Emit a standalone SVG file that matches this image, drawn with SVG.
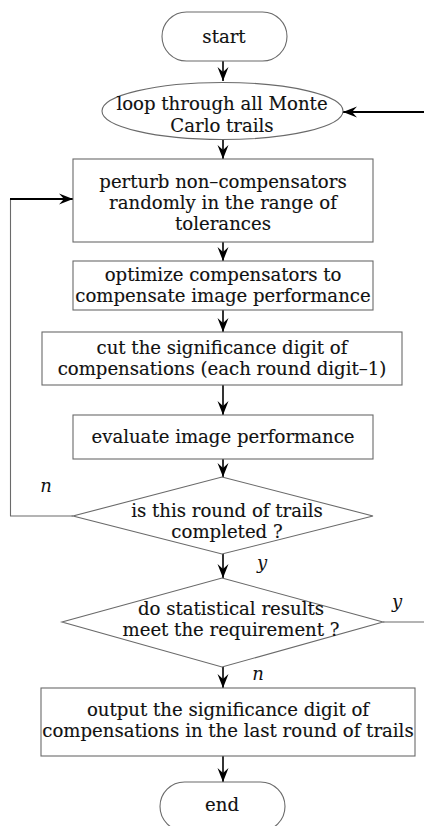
<svg xmlns="http://www.w3.org/2000/svg" width="424" height="826" viewBox="0 0 424 826">
<style>
.shape{fill:#fff;stroke:#6a6a6a;stroke-width:1.1}
.t{font-family:"DejaVu Serif","Liberation Serif",serif;font-size:18.1px;fill:#111;stroke:#111;stroke-width:0.15;text-anchor:middle}
.lbl{font-family:"DejaVu Serif","Liberation Serif",serif;font-size:18px;font-style:italic;fill:#111;text-anchor:middle}
.arr{fill:none;stroke:#000;stroke-width:1.6;marker-end:url(#ah)}
.arrb{fill:none;stroke:#000;stroke-width:2.2;marker-end:url(#ah)}
.ln{fill:none;stroke:#6a6a6a;stroke-width:1.1}
</style>
<defs>
<marker id="ah" markerUnits="userSpaceOnUse" markerWidth="16" markerHeight="12" viewBox="-14 -6 16 12" refX="0" refY="0" orient="auto">
<path d="M0,0 L-14,-5.5 L-9,0 L-14,5.5 Z" fill="#000"/>
</marker>
</defs>
<rect width="424" height="826" fill="#fff"/>
<g id="connectors">
<line class="arr" x1="223" y1="61" x2="223" y2="81"/>
<line class="arr" x1="223" y1="140" x2="223" y2="159"/>
<line class="arr" x1="223" y1="242" x2="223" y2="261"/>
<line class="arr" x1="223" y1="310" x2="223" y2="332"/>
<line class="arr" x1="223" y1="385" x2="223" y2="415"/>
<line class="arr" x1="223" y1="459" x2="223" y2="477"/>
<line class="arr" x1="223" y1="554" x2="223" y2="578"/>
<line class="arr" x1="223" y1="667" x2="223" y2="688"/>
<line class="arr" x1="223" y1="756" x2="223" y2="782"/>
<polyline class="ln" points="73,516 10.5,516 10.5,199"/>
<line class="arrb" x1="10" y1="199" x2="73" y2="199"/>
<line class="ln" x1="383" y1="622" x2="424" y2="622"/>
<line class="arrb" x1="424" y1="112" x2="343" y2="112"/>
<text class="lbl" x="46" y="492">n</text>
<text class="lbl" x="262" y="569">y</text>
<text class="lbl" x="397" y="608">y</text>
<text class="lbl" x="258" y="680">n</text>
</g>
<g id="start">
<rect class="shape" x="162" y="12" width="125" height="49" rx="24.5"/>
<text class="t" x="224" y="43">start</text>
</g>
<g id="loop">
<ellipse class="shape" cx="222.5" cy="111" rx="120.5" ry="28.5"/>
<text class="t" x="222" y="110">loop through all Monte</text>
<text class="t" x="222" y="132">Carlo trails</text>
</g>
<g id="perturb">
<rect class="shape" x="73" y="159" width="300" height="83"/>
<text class="t" x="223" y="188">perturb non–compensators</text>
<text class="t" x="223" y="209">randomly in the range of</text>
<text class="t" x="223" y="230">tolerances</text>
</g>
<g id="optimize">
<rect class="shape" x="73" y="261" width="300" height="49"/>
<text class="t" x="223" y="281">optimize compensators to</text>
<text class="t" x="223" y="302">compensate image performance</text>
</g>
<g id="cut">
<rect class="shape" x="42" y="332" width="360" height="53"/>
<text class="t" x="222" y="354">cut the significance digit of</text>
<text class="t" x="222" y="375">compensations (each round digit–1)</text>
</g>
<g id="evaluate">
<rect class="shape" x="73" y="415" width="300" height="44"/>
<text class="t" x="223" y="443">evaluate image performance</text>
</g>
<g id="decision1">
<polygon class="shape" points="222,477 373,516 222,554 73,516"/>
<text class="t" x="227" y="517">is this round of trails</text>
<text class="t" x="227" y="538">completed ?</text>
</g>
<g id="decision2">
<polygon class="shape" points="222,578 383,622 222,667 62,622"/>
<text class="t" x="231" y="615">do statistical results</text>
<text class="t" x="231" y="636">meet the requirement ?</text>
</g>
<g id="output">
<rect class="shape" x="41" y="688" width="374" height="68"/>
<text class="t" x="228" y="716">output the significance digit of</text>
<text class="t" x="228" y="737">compensations in the last round of trails</text>
</g>
<g id="end">
<rect class="shape" x="160" y="782" width="125" height="49" rx="24.5"/>
<text class="t" x="222" y="811">end</text>
</g>
</svg>
